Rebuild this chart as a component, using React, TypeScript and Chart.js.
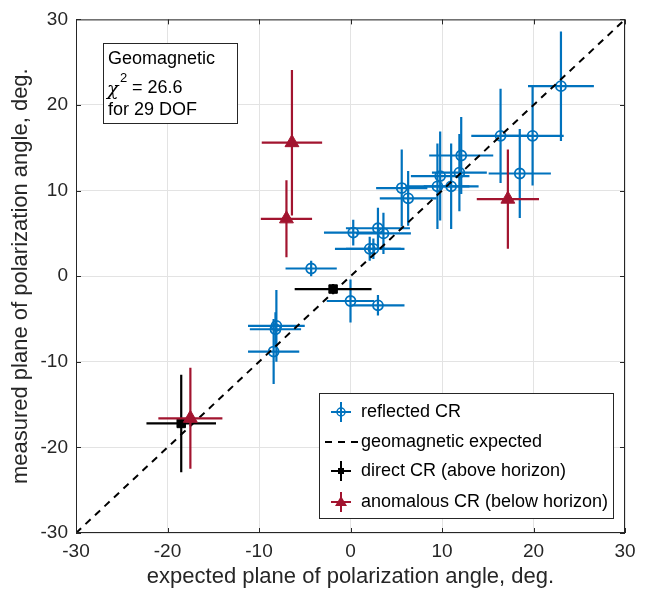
import React, { useEffect, useRef } from 'react';
import { Chart, registerables } from 'chart.js';
Chart.register(...registerables);

// Reflected CR (blue circles)
const reflectedX = [23.0, 16.4, 19.9, 18.5, 12.1, 9.8, 11.9, 9.5, 11.0, 5.6, 6.3, 0.3, 3.0, 3.6, 2.1, 2.5, -4.3, 0.0, 3.0, -8.1, -8.2, -8.4];
const reflectedY = [22.2, 16.4, 16.4, 12.0, 14.1, 11.7, 12.1, 10.5, 10.5, 10.3, 9.1, 5.1, 5.6, 5.0, 3.2, 3.2, 0.9, -2.9, -3.4, -5.8, -6.2, -8.8];
const reflectedXErr = [3.6, 3.2, 3.4, 3.4, 3.5, 3.2, 3.0, 3.5, 3.0, 2.8, 3.1, 3.2, 3.5, 3.0, 3.8, 3.0, 2.8, 2.6, 2.9, 3.1, 2.8, 2.8];
const reflectedYErr = [6.4, 5.5, 5.8, 5.2, 4.5, 5.2, 4.5, 5.0, 5.0, 4.5, 3.2, 1.5, 2.4, 2.4, 1.4, 1.2, 0.9, 2.5, 1.2, 4.2, 2.0, 3.8];

// Direct CR (black squares)
const directX = [-1.9, -18.5];
const directY = [-1.5, -17.2];
const directXErr = [4.2, 3.8];
const directYErr = [0.6, 5.7];

// Anomalous CR (red triangles)
const anomalousX = [-6.4, -7.0, 17.2, -17.5];
const anomalousY = [15.6, 6.7, 9.0, -16.6];
const anomalousXErr = [3.3, 2.8, 3.4, 3.5];
const anomalousYErr = [8.5, 4.5, 5.8, 5.9];

// Expected line
const expectedX = [-30, 30];
const expectedY = [-30, 30];

const tickValues = [-30, -20, -10, 0, 10, 20, 30];

const legendLabels = ['reflected CR', 'geomagnetic expected', 'direct CR (above horizon)', 'anomalous CR (below horizon)'];
const infoLines = ['Geomagnetic', '= 26.6', 'for 29 DOF'];

const BLUE = '#0072BD';
const RED = '#A2142F';
const BLACK = '#000000';
const AXIS = '#262626';
const FONT = "'Liberation Sans', Arial, sans-serif";

const zip = (xs: number[], ys: number[]) => xs.map((x, i) => ({ x, y: ys[i] }));

export default function App() {
  const ref = useRef<HTMLCanvasElement>(null);
  useEffect(() => {
    document.body.style.margin = '0';
    const canvas = ref.current;
    if (!canvas) return;

    const errorBars = {
      id: 'errorBars',
      beforeDatasetDraw(chart: any, args: any) {
        const ds: any = chart.data.datasets[args.index];
        if (!ds.xErr) return;
        const ctx = chart.ctx;
        const xs = chart.scales.x;
        const ys = chart.scales.y;
        ctx.save();
        ctx.strokeStyle = ds.borderColor;
        ctx.lineWidth = 2.2;
        ds.data.forEach((p: any, i: number) => {
          const ex = ds.xErr[i];
          const ey = ds.yErr[i];
          ctx.beginPath();
          ctx.moveTo(xs.getPixelForValue(p.x - ex), ys.getPixelForValue(p.y));
          ctx.lineTo(xs.getPixelForValue(p.x + ex), ys.getPixelForValue(p.y));
          ctx.moveTo(xs.getPixelForValue(p.x), ys.getPixelForValue(p.y - ey));
          ctx.lineTo(xs.getPixelForValue(p.x), ys.getPixelForValue(p.y + ey));
          ctx.stroke();
        });
        ctx.restore();
      },
    };

    const decorations = {
      id: 'decorations',
      afterDraw(chart: any) {
        const ctx = chart.ctx;
        const a = chart.chartArea;
        const xs = chart.scales.x;
        const ys = chart.scales.y;
        ctx.save();
        // box
        ctx.strokeStyle = AXIS;
        ctx.lineWidth = 1;
        ctx.strokeRect(a.left + 0.5, a.top + 0.5, a.right - a.left - 1, a.bottom - a.top - 1);
        // inward ticks
        const tl = 5;
        ctx.beginPath();
        tickValues.forEach((v) => {
          const px = Math.round(xs.getPixelForValue(v)) + 0.5;
          ctx.moveTo(px, a.bottom);
          ctx.lineTo(px, a.bottom - tl);
          ctx.moveTo(px, a.top);
          ctx.lineTo(px, a.top + tl);
          const py = Math.round(ys.getPixelForValue(v)) + 0.5;
          ctx.moveTo(a.left, py);
          ctx.lineTo(a.left + tl, py);
          ctx.moveTo(a.right, py);
          ctx.lineTo(a.right - tl, py);
        });
        ctx.stroke();

        // info box
        const bx = 103, by = 43, bw = 134, bh = 80;
        ctx.fillStyle = '#ffffff';
        ctx.fillRect(bx, by, bw, bh);
        ctx.strokeStyle = AXIS;
        ctx.strokeRect(bx + 0.5, by + 0.5, bw, bh);
        ctx.fillStyle = '#000000';
        ctx.font = `18px ${FONT}`;
        ctx.textBaseline = 'middle';
        ctx.textAlign = 'left';
        ctx.fillText(infoLines[0], 108, 59);
        ctx.font = `italic 19px 'DejaVu Serif', serif`;
        ctx.fillText('\u03C7', 107, 90);
        ctx.font = `13px ${FONT}`;
        ctx.fillText('2', 120, 78);
        ctx.font = `18px ${FONT}`;
        ctx.fillText(infoLines[1], 132, 88);
        ctx.fillText(infoLines[2], 108, 110);

        // legend
        const lx = 319, ly = 393, lw = 294, lh = 125;
        ctx.fillStyle = '#ffffff';
        ctx.fillRect(lx, ly, lw, lh);
        ctx.strokeStyle = AXIS;
        ctx.strokeRect(lx + 0.5, ly + 0.5, lw, lh);
        const rows = [412, 442, 471, 502];
        const mx = 341;
        ctx.font = `18px ${FONT}`;
        ctx.fillStyle = '#000000';
        legendLabels.forEach((t, i) => ctx.fillText(t, 361, rows[i]));
        // markers
        const cross = (y: number, col: string) => {
          ctx.strokeStyle = col;
          ctx.lineWidth = 2;
          ctx.beginPath();
          ctx.moveTo(mx - 10, y);
          ctx.lineTo(mx + 10, y);
          ctx.moveTo(mx, y - 10);
          ctx.lineTo(mx, y + 10);
          ctx.stroke();
        };
        cross(rows[0], BLUE);
        ctx.lineWidth = 1.5;
        ctx.beginPath();
        ctx.arc(mx, rows[0], 4, 0, Math.PI * 2);
        ctx.stroke();
        ctx.strokeStyle = BLACK;
        ctx.lineWidth = 2;
        ctx.setLineDash([7, 6]);
        ctx.beginPath();
        ctx.moveTo(325, rows[1]);
        ctx.lineTo(358, rows[1]);
        ctx.stroke();
        ctx.setLineDash([]);
        cross(rows[2], BLACK);
        ctx.fillStyle = BLACK;
        ctx.fillRect(mx - 3, rows[2] - 3, 6, 6);
        cross(rows[3], RED);
        ctx.fillStyle = RED;
        ctx.beginPath();
        ctx.moveTo(mx, rows[3] - 6);
        ctx.lineTo(mx + 6, rows[3] + 4);
        ctx.lineTo(mx - 6, rows[3] + 4);
        ctx.closePath();
        ctx.fill();
        ctx.restore();
      },
    };

    const chart = new Chart(canvas, {
      type: 'scatter',
      data: {
        datasets: [
          {
            label: legendLabels[0],
            data: zip(reflectedX, reflectedY),
            xErr: reflectedXErr,
            yErr: reflectedYErr,
            borderColor: BLUE,
            backgroundColor: 'rgba(0,0,0,0)',
            pointStyle: 'circle',
            pointRadius: 5,
            borderWidth: 1.8,
            order: 4,
          } as any,
          {
            label: legendLabels[1],
            type: 'line',
            data: zip(expectedX, expectedY),
            borderColor: BLACK,
            borderWidth: 2,
            borderDash: [7, 6],
            pointRadius: 0,
            showLine: true,
            fill: false,
            order: 3,
          } as any,
          {
            label: legendLabels[2],
            data: zip(directX, directY),
            xErr: directXErr,
            yErr: directYErr,
            borderColor: BLACK,
            backgroundColor: BLACK,
            pointStyle: 'rect',
            pointRadius: 6,
            borderWidth: 1,
            order: 2,
          } as any,
          {
            label: legendLabels[3],
            data: zip(anomalousX, anomalousY),
            xErr: anomalousXErr,
            yErr: anomalousYErr,
            borderColor: RED,
            backgroundColor: RED,
            pointStyle: 'triangle',
            pointRadius: 8,
            borderWidth: 1,
            order: 1,
          } as any,
        ],
      },
      options: {
        animation: false,
        responsive: true,
        maintainAspectRatio: false,
        layout: { padding: { top: 14, right: 22, left: 0, bottom: 0 } },
        plugins: { legend: { display: false }, tooltip: { enabled: false } },
        scales: {
          x: {
            type: 'linear',
            min: -30,
            max: 30,
            afterFit: (s: any) => { s.height = 60; },
            afterBuildTicks: (s: any) => { s.ticks = tickValues.map((v) => ({ value: v })); },
            grid: { color: '#e3e3e3', drawTicks: false },
            border: { display: false },
            ticks: { color: AXIS, font: { family: FONT, size: 19 }, padding: 7 },
            title: { display: true, text: 'expected plane of polarization angle, deg.', color: AXIS, font: { family: FONT, size: 22 }, padding: { top: 0, bottom: 3 } },
          },
          y: {
            type: 'linear',
            min: -30,
            max: 30,
            afterFit: (s: any) => { s.width = 76; },
            afterBuildTicks: (s: any) => { s.ticks = tickValues.map((v) => ({ value: v })); },
            grid: { color: '#e3e3e3', drawTicks: false },
            border: { display: false },
            ticks: { color: AXIS, font: { family: FONT, size: 19 }, padding: 8 },
            title: { display: true, text: 'measured plane of polarization angle, deg.', color: AXIS, font: { family: FONT, size: 22 }, padding: { top: 8, bottom: 0 } },
          },
        },
      },
      plugins: [errorBars, decorations],
    } as any);
    return () => chart.destroy();
  }, []);
  return (
    <div style={{ width: 647, height: 593, position: 'relative' }}>
      <canvas ref={ref} />
    </div>
  );
}
